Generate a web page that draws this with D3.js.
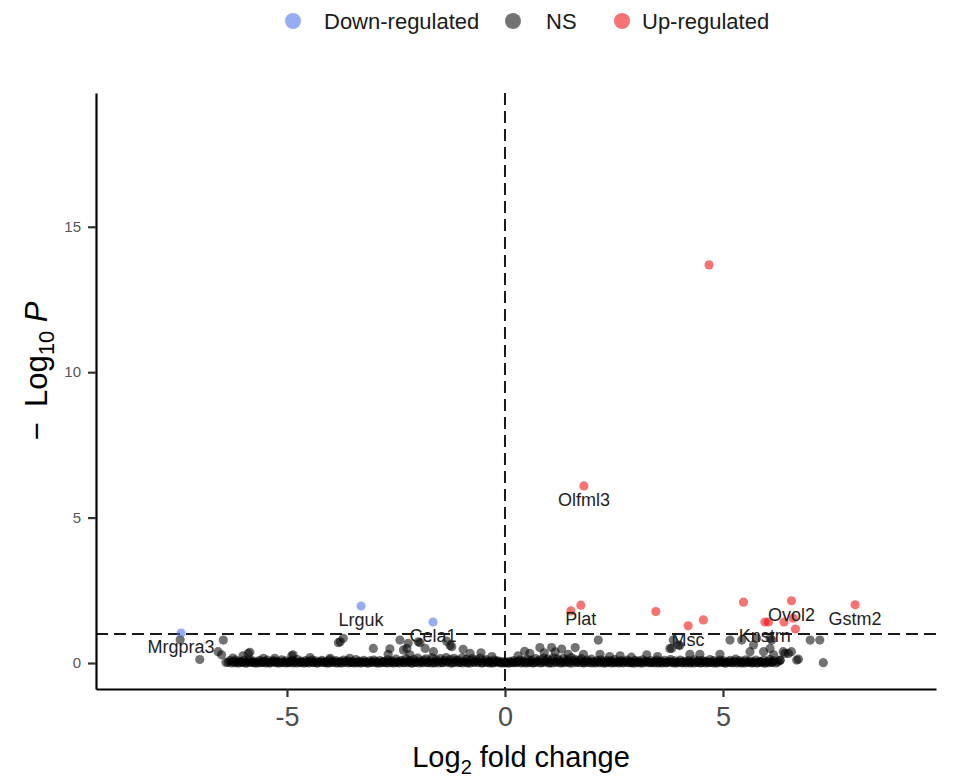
<!DOCTYPE html>
<html>
<head>
<meta charset="utf-8">
<script src="https://cdn.jsdelivr.net/npm/d3@7"></script>
<style>
  html, body { margin: 0; padding: 0; background: #ffffff; }
  svg { display: block; font-family: "Liberation Sans", Arial, Helvetica, sans-serif; }
</style>
</head>
<body>
<svg id="chart" width="956" height="783"></svg>
<script>
// ---------------- DATA ----------------
const legendLabels = ["Down-regulated", "NS", "Up-regulated"];
const xTicks = [-5, 0, 5];
const yTicks = [0, 5, 10, 15];
const pCutoffLog = 1;     // -log10 P threshold line
const fcCutoff = 0;       // vertical threshold line

// Down-regulated genes [log2FC, -log10P, gene]
const downGenes = [
  [-7.43, 1.03, "Mrgpra3"],
  [-3.30, 1.96, "Lrguk"],
  [-1.65, 1.41, "Cela1"]
];

// Up-regulated genes [log2FC, -log10P, gene]
const upGenes = [
  [4.68, 13.69, ""],
  [1.81, 6.09, "Olfml3"],
  [1.51, 1.79, ""],
  [1.74, 1.99, "Plat"],
  [3.46, 1.77, ""],
  [4.20, 1.28, "Msc"],
  [4.55, 1.48, ""],
  [5.47, 2.09, ""],
  [5.96, 1.41, "Knstrn"],
  [6.04, 1.41, ""],
  [6.40, 1.41, ""],
  [6.57, 2.14, "Ovol2"],
  [6.61, 1.54, ""],
  [6.66, 1.17, ""],
  [8.03, 2.00, "Gstm2"]
];

// Non-significant genes scattered above the main band [log2FC, -log10P]
const nsScatter = [
  [-7.45,0.80],[-7.00,0.12],[-6.46,0.79],[-6.58,0.39],[-6.50,0.28],[-6.40,0.02],[-6.24,0.17],[-6.01,0.25],
  [-5.89,0.33],[-5.85,0.37],[-5.54,0.16],[-5.28,0.16],[-4.89,0.25],[-4.86,0.28],[-4.47,0.19],[-4.01,0.16],
  [-3.82,0.70],[-3.71,0.85],[-3.78,0.73],[-3.56,0.16],[-3.02,0.50],[-2.64,0.49],[-2.68,0.30],[-2.41,0.79],
  [-2.33,0.45],[-2.25,0.50],[-2.22,0.68],[-2.18,0.28],[-1.99,0.73],[-1.95,0.70],[-1.83,0.50],[-1.64,0.39],
  [-1.34,0.75],[-1.26,0.60],[-1.22,0.56],[-0.96,0.47],[-0.80,0.33],[-0.55,0.35],[-0.30,0.22],
  [0.30,0.25],[0.45,0.40],[0.57,0.33],[0.80,0.53],[0.90,0.35],[1.07,0.53],[1.15,0.38],[1.30,0.48],[1.45,0.30],
  [1.61,0.53],[1.80,0.30],[2.14,0.79],[2.18,0.30],[2.40,0.22],[2.64,0.25],[2.90,0.20],[3.25,0.28],[3.50,0.22],
  [3.78,0.50],[3.82,0.50],[3.86,0.79],[3.98,0.62],[4.01,0.60],[4.24,0.30],[4.47,0.30],[4.93,0.30],[5.16,0.79],
  [5.43,0.79],[5.62,0.39],[5.70,0.62],[5.77,0.85],[5.93,0.39],[6.08,0.50],[6.08,0.85],[6.12,0.79],[6.16,0.28],
  [6.31,0.10],[6.38,0.39],[6.42,0.33],[6.50,0.33],[6.57,0.39],[6.69,0.10],[6.73,0.13],[7.00,0.79],[7.22,0.79],
  [7.30,0.01]
];

// Non-significant genes in the dense band near -log10P = 0 [log2FC, -log10P]
const nsBand = [
  [-6.35,0.02],[-6.31,0.08],[-6.27,0.00],[-6.22,0.05],[-6.18,0.10],[-6.13,0.01],[-6.09,0.06],[-6.04,0.03],[-5.99,0.09],[-5.95,0.00],
  [-5.90,0.05],[-5.86,0.11],[-5.81,0.02],[-5.77,0.07],[-5.72,0.00],[-5.67,0.04],[-5.63,0.09],[-5.58,0.01],[-5.54,0.06],[-5.49,0.03],
  [-5.45,0.10],[-5.40,0.00],[-5.35,0.05],[-5.31,0.08],[-5.26,0.02],[-5.22,0.06],[-5.17,0.00],[-5.12,0.11],[-5.08,0.03],[-5.03,0.07],
  [-4.99,0.01],[-4.94,0.05],[-4.89,0.09],[-4.85,0.00],[-4.80,0.04],[-4.76,0.12],[-4.71,0.02],[-4.66,0.06],[-4.62,0.00],[-4.57,0.08],
  [-4.53,0.03],[-4.48,0.05],[-4.43,0.10],[-4.39,0.01],[-4.34,0.07],[-4.30,0.00],[-4.25,0.04],[-4.20,0.09],[-4.16,0.02],[-4.11,0.06],
  [-4.07,0.00],[-4.02,0.11],[-3.97,0.03],[-3.93,0.05],[-3.88,0.08],[-3.84,0.01],[-3.79,0.06],[-3.74,0.00],[-3.70,0.10],[-3.65,0.04],
  [-3.61,0.07],[-3.56,0.02],[-3.51,0.05],[-3.47,0.00],[-3.42,0.12],[-3.38,0.03],[-3.33,0.06],[-3.28,0.01],[-3.24,0.09],[-3.19,0.04],
  [-3.15,0.00],[-3.10,0.07],[-3.05,0.02],[-3.01,0.10],[-2.96,0.05],[-2.92,0.00],[-2.87,0.08],[-2.82,0.03],[-2.78,0.06],[-2.73,0.01],
  [-2.69,0.11],[-2.64,0.04],[-2.59,0.07],[-2.55,0.00],[-2.50,0.13],[-2.46,0.02],[-2.41,0.06],[-2.36,0.09],[-2.32,0.01],[-2.27,0.15],
  [-2.23,0.04],[-2.18,0.08],[-2.13,0.00],[-2.09,0.12],[-2.04,0.03],[-2.00,0.17],[-1.95,0.06],[-1.90,0.01],[-1.86,0.10],[-1.81,0.14],
  [-1.77,0.02],[-1.72,0.07],[-1.67,0.18],[-1.63,0.00],[-1.58,0.11],[-1.54,0.05],[-1.49,0.15],[-1.44,0.02],[-1.40,0.09],[-1.35,0.19],
  [-1.31,0.04],[-1.26,0.12],[-1.21,0.00],[-1.17,0.16],[-1.12,0.07],[-1.08,0.10],[-1.03,0.02],[-0.98,0.18],[-0.94,0.05],[-0.89,0.13],
  [-0.85,0.00],[-0.80,0.09],[-0.75,0.15],[-0.71,0.03],[-0.66,0.11],[-0.62,0.06],[-0.57,0.17],[-0.52,0.01],[-0.48,0.08],[-0.43,0.12],
  [-0.39,0.03],[-0.34,0.06],[-0.29,0.00],[-0.25,0.10],[-0.20,0.04],[-0.16,0.07],[-0.11,0.01],[-0.07,0.05],[-0.02,0.00],[0.02,0.03],
  [0.07,0.00],[0.11,0.06],[0.16,0.02],[0.20,0.08],[0.25,0.01],[0.29,0.05],[0.34,0.10],[0.38,0.03],[0.43,0.07],[0.48,0.00],
  [0.52,0.12],[0.57,0.04],[0.61,0.09],[0.66,0.01],[0.70,0.15],[0.75,0.06],[0.80,0.11],[0.84,0.02],[0.89,0.17],[0.93,0.07],
  [0.98,0.13],[1.02,0.00],[1.07,0.10],[1.11,0.18],[1.16,0.04],[1.21,0.14],[1.25,0.08],[1.30,0.01],[1.34,0.16],[1.39,0.05],
  [1.43,0.11],[1.48,0.00],[1.52,0.19],[1.57,0.07],[1.61,0.12],[1.66,0.03],[1.70,0.09],[1.75,0.15],[1.80,0.01],[1.84,0.06],
  [1.89,0.10],[1.93,0.02],[1.98,0.13],[2.02,0.05],[2.07,0.00],[2.11,0.08],[2.16,0.03],[2.20,0.11],[2.25,0.06],[2.30,0.00],
  [2.34,0.09],[2.39,0.04],[2.43,0.07],[2.48,0.01],[2.52,0.12],[2.57,0.05],[2.61,0.00],[2.66,0.08],[2.70,0.03],[2.75,0.06],
  [2.80,0.10],[2.84,0.01],[2.89,0.05],[2.93,0.00],[2.98,0.09],[3.02,0.03],[3.07,0.07],[3.11,0.00],[3.16,0.11],[3.20,0.04],
  [3.25,0.06],[3.30,0.01],[3.34,0.08],[3.39,0.02],[3.43,0.05],[3.48,0.10],[3.52,0.00],[3.57,0.06],[3.61,0.03],[3.66,0.09],
  [3.70,0.01],[3.75,0.05],[3.80,0.12],[3.84,0.02],[3.89,0.07],[3.93,0.00],[3.98,0.04],[4.02,0.10],[4.07,0.01],[4.11,0.06],
  [4.16,0.03],[4.20,0.08],[4.25,0.00],[4.29,0.05],[4.34,0.11],[4.39,0.02],[4.43,0.07],[4.48,0.00],[4.52,0.09],[4.57,0.04],
  [4.61,0.06],[4.66,0.01],[4.70,0.12],[4.75,0.03],[4.79,0.08],[4.84,0.00],[4.88,0.05],[4.93,0.10],[4.97,0.02],[5.02,0.07],
  [5.06,0.00],[5.11,0.04],[5.16,0.09],[5.20,0.01],[5.25,0.06],[5.29,0.13],[5.34,0.03],[5.38,0.08],[5.43,0.00],[5.47,0.05],
  [5.52,0.11],[5.56,0.02],[5.61,0.07],[5.66,0.00],[5.70,0.04],[5.75,0.10],[5.79,0.01],[5.84,0.06],[5.88,0.03],[5.93,0.09],
  [5.97,0.00],[6.02,0.05],[6.07,0.12],[6.11,0.02],[6.16,0.07],[6.21,0.00],[6.26,0.04],[6.31,0.09]
];

// Additional band genes lying almost exactly at -log10P = 0
const nsCore = [
  [-6.20,0.01],[-6.11,0.00],[-6.02,0.02],[-5.93,0.00],[-5.84,0.03],[-5.75,0.01],[-5.66,0.00],[-5.57,0.02],[-5.48,0.00],[-5.39,0.01],
  [-5.30,0.03],[-5.21,0.00],[-5.12,0.02],[-5.03,0.00],[-4.94,0.01],[-4.85,0.03],[-4.76,0.00],[-4.67,0.02],[-4.58,0.01],[-4.49,0.00],
  [-4.40,0.02],[-4.31,0.00],[-4.22,0.03],[-4.13,0.01],[-4.04,0.00],[-3.95,0.02],[-3.86,0.00],[-3.77,0.01],[-3.68,0.03],[-3.59,0.00],
  [-3.50,0.02],[-3.41,0.01],[-3.32,0.00],[-3.23,0.02],[-3.14,0.00],[-3.05,0.03],[-2.96,0.01],[-2.87,0.00],[-2.78,0.02],[-2.69,0.00],
  [-2.60,0.01],[-2.51,0.03],[-2.42,0.00],[-2.33,0.02],[-2.24,0.01],[-2.15,0.00],[-2.06,0.02],[-1.97,0.00],[-1.88,0.03],[-1.79,0.01],
  [-1.70,0.00],[-1.61,0.02],[-1.52,0.00],[-1.43,0.01],[-1.34,0.03],[-1.25,0.00],[-1.16,0.02],[-1.07,0.01],[-0.98,0.00],[-0.89,0.02],
  [-0.80,0.00],[-0.71,0.03],[-0.62,0.01],[-0.53,0.00],[-0.44,0.02],[-0.35,0.00],[-0.26,0.01],[-0.17,0.03],[-0.08,0.00],[0.01,0.02],
  [0.10,0.00],[0.19,0.01],[0.28,0.03],[0.37,0.00],[0.46,0.02],[0.55,0.01],[0.64,0.00],[0.73,0.02],[0.82,0.00],[0.91,0.03],
  [1.00,0.01],[1.09,0.00],[1.18,0.02],[1.27,0.00],[1.36,0.01],[1.45,0.03],[1.54,0.00],[1.63,0.02],[1.72,0.01],[1.81,0.00],
  [1.90,0.02],[1.99,0.00],[2.08,0.03],[2.17,0.01],[2.26,0.00],[2.35,0.02],[2.44,0.00],[2.53,0.01],[2.62,0.03],[2.71,0.00],
  [2.80,0.02],[2.89,0.01],[2.98,0.00],[3.07,0.02],[3.16,0.00],[3.25,0.03],[3.34,0.01],[3.43,0.00],[3.52,0.02],[3.61,0.00],
  [3.70,0.01],[3.79,0.03],[3.88,0.00],[3.97,0.02],[4.06,0.01],[4.15,0.00],[4.24,0.02],[4.33,0.00],[4.42,0.03],[4.51,0.01],
  [4.60,0.00],[4.69,0.02],[4.78,0.00],[4.87,0.01],[4.96,0.03],[5.05,0.00],[5.14,0.02],[5.23,0.01],[5.32,0.00],[5.41,0.02],
  [5.50,0.00],[5.59,0.03],[5.68,0.01],[5.77,0.00],[5.86,0.02],[5.95,0.00],[6.04,0.01],[6.13,0.03]
];

// ---------------- STYLE / LAYOUT ----------------
const colors = { down: "royalblue", ns: "black", up: "#ee0000" };
const pointAlpha = 0.55;
const pointR = 4.6;

const svg = d3.select("#chart");
const panel = { left: 96, right: 936, top: 93, bottom: 689 };

const x = d3.scaleLinear().domain([-9.38, 9.885]).range([panel.left, panel.right]);
const y = d3.scaleLinear().domain([-0.894, 19.6]).range([panel.bottom, panel.top]);

// threshold lines
svg.append("line")
  .attr("x1", x(fcCutoff)).attr("x2", x(fcCutoff))
  .attr("y1", panel.top).attr("y2", panel.bottom)
  .attr("stroke", "#1a1a1a").attr("stroke-width", 2).attr("stroke-dasharray", "12,6");
svg.append("line")
  .attr("x1", panel.left).attr("x2", panel.right)
  .attr("y1", y(pCutoffLog)).attr("y2", y(pCutoffLog))
  .attr("stroke", "#1a1a1a").attr("stroke-width", 2).attr("stroke-dasharray", "12,6");

// points
const ptsG = svg.append("g");
function drawPoints(data, color) {
  ptsG.append("g").selectAll("circle").data(data).enter().append("circle")
    .attr("cx", d => x(d[0])).attr("cy", d => y(d[1])).attr("r", pointR)
    .attr("fill", color).attr("fill-opacity", pointAlpha);
}
drawPoints(nsCore, colors.ns);
drawPoints(nsBand, colors.ns);
drawPoints(nsScatter, colors.ns);
drawPoints(downGenes, colors.down);
drawPoints(upGenes, colors.up);

// gene labels
const labelled = downGenes.concat(upGenes).filter(d => d[2] !== "");
svg.append("g").selectAll("text").data(labelled).enter().append("text")
  .attr("x", d => x(d[0])).attr("y", d => y(d[1]) + 20)
  .attr("text-anchor", "middle")
  .attr("font-size", 18).attr("fill", "#1e1e1e")
  .text(d => d[2]);

// axes
const xAxis = svg.append("g")
  .attr("transform", `translate(0,${panel.bottom})`)
  .call(d3.axisBottom(x).tickValues(xTicks).tickSizeInner(8).tickSizeOuter(0).tickPadding(10).tickFormat(d3.format("d")));
xAxis.select(".domain").attr("stroke", "#000").attr("stroke-width", 2.2);
xAxis.selectAll(".tick line").attr("stroke", "#333").attr("stroke-width", 2.2);
xAxis.selectAll(".tick text").attr("font-size", 27).attr("fill", "#4d4d4d")
  .attr("font-family", "'Liberation Sans', Arial, sans-serif")
  .text(d => d < 0 ? "-" + Math.abs(d) : d);

const yAxis = svg.append("g")
  .attr("transform", `translate(${panel.left},0)`)
  .call(d3.axisLeft(y).tickValues(yTicks).tickSizeInner(8).tickSizeOuter(0).tickPadding(7));
yAxis.select(".domain").attr("stroke", "#000").attr("stroke-width", 2.2);
yAxis.selectAll(".tick line").attr("stroke", "#333").attr("stroke-width", 2.2);
yAxis.selectAll(".tick text").attr("font-size", 15).attr("fill", "#555")
  .attr("font-family", "'Liberation Sans', Arial, sans-serif");

// axis titles
const xt = svg.append("text").attr("x", 521).attr("y", 767)
  .attr("text-anchor", "middle").attr("font-size", 29).attr("fill", "#000");
xt.append("tspan").text("Log");
xt.append("tspan").attr("font-size", 20).attr("dy", 7).text("2");
xt.append("tspan").attr("dy", -7).text(" fold change");

const yt = svg.append("text")
  .attr("transform", "translate(47,371) rotate(-90)")
  .attr("text-anchor", "middle").attr("font-size", 31).attr("fill", "#000");
yt.append("tspan").text("\u2212\u2002Log");
yt.append("tspan").attr("font-size", 22).attr("dy", 7).text("10");
yt.append("tspan").attr("dy", -7).text("\u00a0");
yt.append("tspan").attr("font-style", "italic").text("P");

// legend
const legendX = [293, 513, 622];
const legendTextX = [324, 546, 642];
const legendColors = [colors.down, colors.ns, colors.up];
const lg = svg.append("g");
legendLabels.forEach((lab, i) => {
  lg.append("circle").attr("cx", legendX[i]).attr("cy", 21).attr("r", 8)
    .attr("fill", legendColors[i]).attr("fill-opacity", pointAlpha);
  lg.append("text").attr("x", legendTextX[i]).attr("y", 29)
    .attr("font-size", 22).attr("fill", "#1a1a1a").text(lab);
});
</script>
</body>
</html>
